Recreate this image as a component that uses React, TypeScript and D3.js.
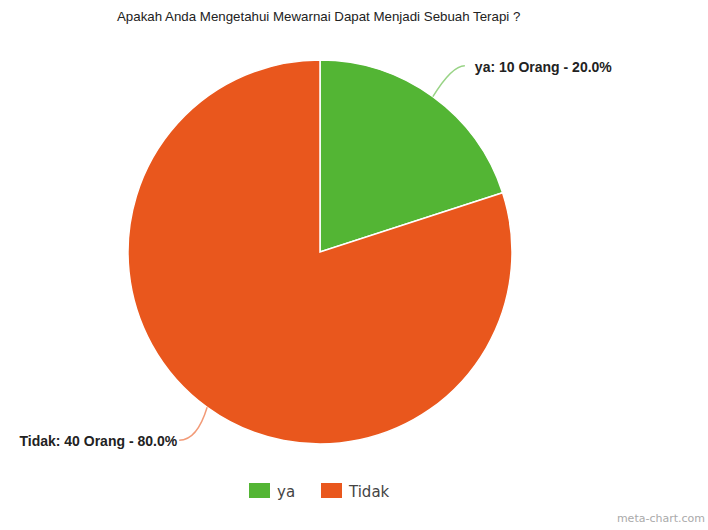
import React from "react";
import * as d3 from "d3";

const categories = ["ya", "Tidak"];
const values = [10, 40];
const colors = ["#53b534", "#e9571d"];
const title = "Apakah Anda Mengetahui Mewarnai Dapat Menjadi Sebuah Terapi ?";

export default function App() {
  const W = 708, H = 530;
  const cx = 320, cy = 252, r = 192;
  const total = d3.sum(values);
  const pie = d3.pie<number>().sort(null).value((d) => d)(values);
  const arc = d3.arc<d3.PieArcDatum<number>>().innerRadius(0).outerRadius(r);

  const labels = pie.map((p, i) => {
    const mid = (p.startAngle + p.endAngle) / 2;
    const sx = Math.sin(mid) * r, sy = -Math.cos(mid) * r;
    const right = Math.sin(mid) >= 0;
    const ex = right ? sx + 32 : sx - 28;
    const ey = right ? sy - 31 : sy + 33;
    const qx = right ? sx + 19 : sx - 10;
    const qy = ey;
    const pct = ((values[i] / total) * 100).toFixed(1);
    return {
      path: `M${sx},${sy} Q${qx},${qy} ${ex},${ey}`,
      tx: right ? ex + 10 : ex - 2,
      ty: ey + 6,
      anchor: right ? "start" : "end",
      text: `${categories[i]}: ${values[i]} Orang - ${pct}%`,
      color: colors[i],
    };
  });

  return (
    <svg width={W} height={H} style={{ display: "block", position: "absolute", left: 0, top: 0, background: "#fff" }}>
      <text x={117} y={21} fontFamily="Liberation Sans, Arial, sans-serif" fontSize={13.3} fill="#222">{title}</text>
      <g transform={`translate(${cx},${cy})`}>
        {pie.map((p, i) => (
          <path key={i} d={arc(p) || ""} fill={colors[i]} stroke="#fff" strokeWidth={1.5} />
        ))}
        {labels.map((l, i) => (
          <g key={i}>
            <path d={l.path} fill="none" stroke={l.color} strokeOpacity={0.6} strokeWidth={1.5} />
            <text x={l.tx} y={l.ty} textAnchor={l.anchor} fontFamily="Liberation Sans, Arial, sans-serif" fontWeight="bold" fontSize={14} fill="#222">{l.text}</text>
          </g>
        ))}
      </g>
      <g fontFamily="DejaVu Sans, sans-serif" fontSize={15} fill="#444">
        {categories.map((c, i) => {
          const x = i === 0 ? 249 : 321;
          return (
            <g key={c}>
              <rect x={x} y={483} width={21} height={15} fill={colors[i]} />
              <text x={x + 28} y={497}>{c}</text>
            </g>
          );
        })}
      </g>
      <text x={705} y={522} textAnchor="end" fontFamily="DejaVu Sans, sans-serif" fontSize={11} fill="#aaa">meta-chart.com</text>
    </svg>
  );
}
